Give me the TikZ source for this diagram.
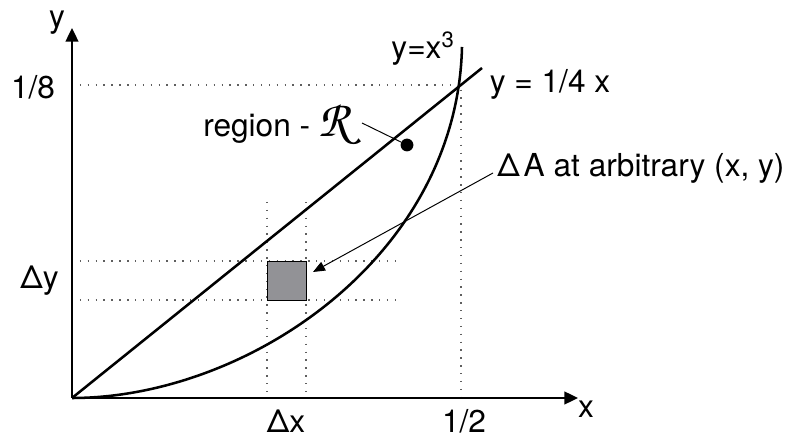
\documentclass[tikz,border=0pt]{standalone}
\usepackage{fontspec}
\setmainfont{TeX Gyre Heros}
\usepackage{tikz}
\usetikzlibrary{arrows.meta, positioning}
\definecolor{cellgray}{RGB}{146,146,150}
\definecolor{dotgray}{RGB}{95,95,95}
\newcommand{\scriptR}{{\fontencoding{OT1}\fontfamily{pzc}\fontseries{mb}\fontshape{it}\fontsize{37}{37}\selectfont R}}

\begin{document}
\begin{tikzpicture}[
    every node/.style={font=\fontsize{22.5}{27}\selectfont, inner sep=0pt},
    axis/.style={line width=1.2pt, -{Triangle[length=3.4mm, width=3.2mm]}},
    curve/.style={line width=1.8pt},
    guide/.style={dotgray, line width=1pt, dash pattern=on 1pt off 4.6pt},
    leader/.style={line width=0.7pt},
    pointer/.style={line width=0.7pt, -{Triangle[length=3mm, width=2.4mm]}},
    cell/.style={draw, line width=0.7pt, fill=cellgray, minimum size=0.975cm},
    dot/.style={circle, fill, minimum size=0.32cm}
  ]
  \useasboundingbox (-1.8,-1.0) rectangle (18.125,9.95);

  \coordinate (O) at (0,0);
  \coordinate (xend) at (12.65,0);
  \coordinate (yend) at (0,9.25);
  \coordinate (P) at (9.725,7.825);

  % guide lines
  \draw[guide] (0,7.825) -- (P) -- (9.725,0);
  \draw[guide] (0,3.425) -- (8.2,3.425);
  \draw[guide] (0,2.45) -- (8.2,2.45);
  \draw[guide] (4.875,4.9) -- (4.875,0);
  \draw[guide] (5.85,4.9) -- (5.85,0);

  \node[cell] (dA) at (5.3625,2.9375) {};

  % axes
  \draw[axis] (O) -- (xend);
  \draw[axis] (O) -- (yend);
  \node (xlab) at (12.85,-0.275) {x};
  \node (ylab) at (-0.375,9.39) {y};

  % the two curves
  \draw[curve] (O) -- (10.25,8.25);
  \draw[curve] (O) .. controls (4.376,0) and (9.628,3.521) .. (9.75,8.775);

  \node (eighth) at (-0.975,7.775) {1/8};
  \node (half) at (9.8,-0.58) {1/2};
  \node (dy) at (-0.81,2.925) {Δy};
  \node (dx) at (5.35,-0.575) {Δx};
  \node (cubic) at (8.775,8.74) {y=x\textsuperscript{3}};
  \node (linear) at (11.95,7.84) {y = 1/4 x};

  % region label
  \node[anchor=base west] (region) at (3.275,6.525) {region - \scriptR};
  \node[dot] (rdot) at (8.375,6.325) {};
  \coordinate (rtail) at (7.25,6.875);
  \draw[leader] (rtail) -- (rdot);

  % area element label
  \node (dAlab) at (14.225,5.75) {Δ\kern0.12em A at arbitrary (x, y)};
  \coordinate (atail) at (10.525,5.625);
  \coordinate (ahead) at (6.025,3.15);
  \draw[pointer] (atail) -- (ahead);
\end{tikzpicture}
\end{document}
